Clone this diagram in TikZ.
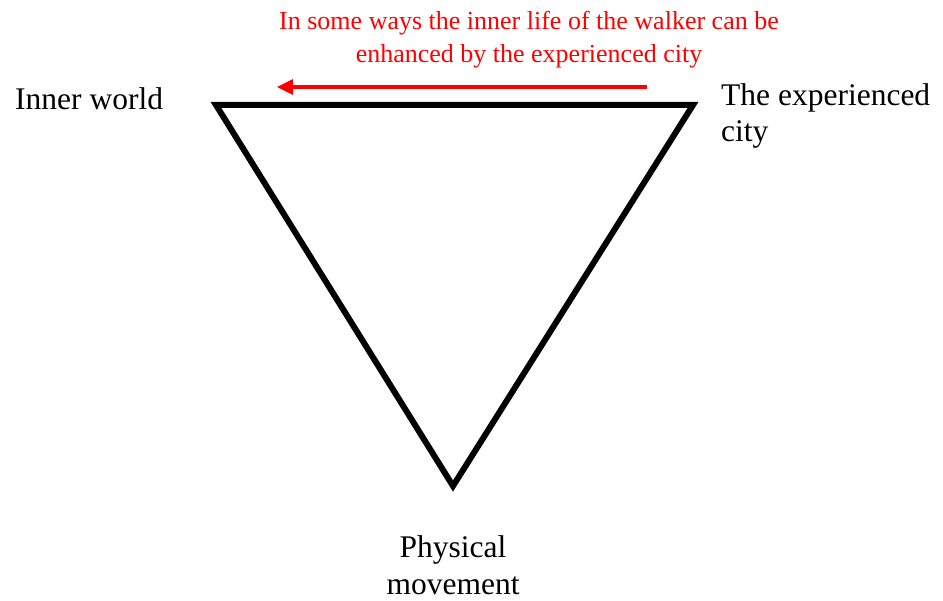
\documentclass[tikz,border=0pt]{standalone}
\usepackage{fontspec}
\setmainfont{Liberation Serif}
\usetikzlibrary{arrows.meta}
\begin{document}
\begin{tikzpicture}[x=1pt,y=-1pt,
  lbl/.style={inner sep=0pt,font=\fontsize{31.5}{36.5}\selectfont,text=black},
  note/.style={inner sep=0pt,font=\fontsize{26}{33}\selectfont,text=red,align=center},
  edge/.style={line width=6pt,line join=miter,draw=black},
  flow/.style={draw=red,line width=3.3pt,-{Triangle[length=16pt,width=15pt]}}]
\useasboundingbox (0,0) rectangle (943,601);
\coordinate (L) at (216,105);
\coordinate (R) at (693,105);
\coordinate (B) at (453,486);
\draw[edge] (L) -- (R) -- (B) -- cycle;
\coordinate (as) at (647,87);
\coordinate (ae) at (277,87);
\draw[flow] (as) -- (ae);
\node[note,anchor=base] (n1) at (529,30) {In some ways the inner life of the walker can be};
\node[note,anchor=base] (n2) at (529,63) {enhanced by the experienced city};
\node[lbl,anchor=base west] (iw) at (15,110) {Inner world};
\node[lbl,anchor=base west,align=left] (ec) at (721,142) {The experienced\\city};
\node[lbl,anchor=base,align=center] (pm) at (453,594) {Physical\\movement};
\end{tikzpicture}
\end{document}
